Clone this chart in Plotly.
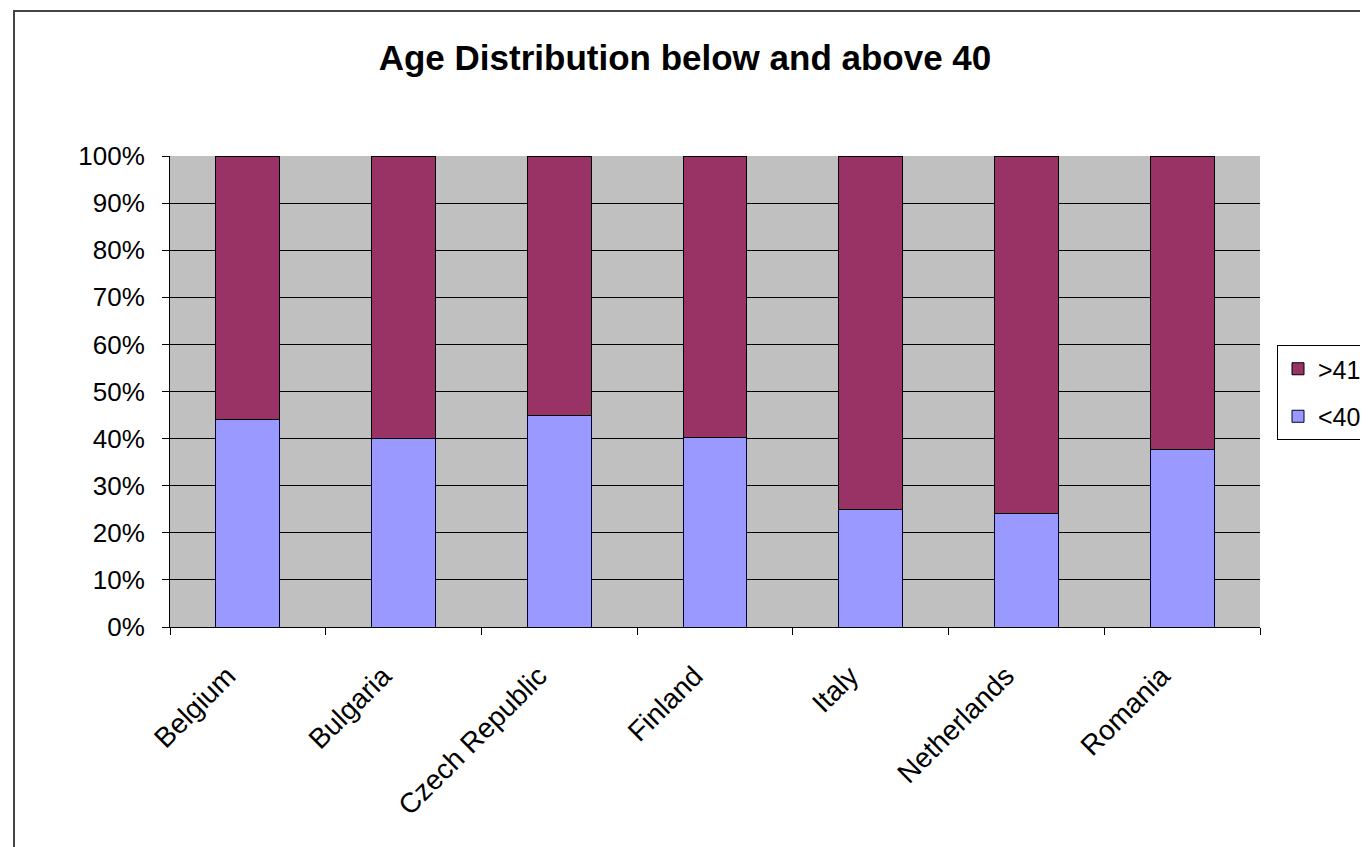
import plotly.graph_objects as go

countries = ["Belgium", "Bulgaria", "Czech Republic", "Finland", "Italy", "Netherlands", "Romania"]
below_40 = [0.44, 0.40, 0.45, 0.403, 0.25, 0.241, 0.377]
above_41 = [round(1 - v, 3) for v in below_40]
y_ticks = [i / 10 for i in range(11)]

FONT = "Liberation Sans, Arial, sans-serif"

fig = go.Figure()
fig.add_trace(go.Bar(
    x=countries, y=below_40, name="<40", legendrank=2, legendgroup="lo",
    marker=dict(color="#9999FF", line=dict(color="#000033", width=1)),
    width=0.41,
))
fig.add_trace(go.Bar(
    x=countries, y=above_41, name=">41", legendrank=1, legendgroup="hi",
    marker=dict(color="#993366", line=dict(color="#000000", width=1)),
    width=0.41,
))

OFF = 8  # page body margin
W, H = 1368 - OFF, 847 - OFF
L, R, T, B = 170 - OFF, 1260 - OFF, 156 - OFF, 627 - OFF
pw, ph = R - L, B - T

def px_x(sx):
    return (sx - OFF - L) / pw

def px_y(sy):
    return (B - (sy - OFF)) / ph

pad = "\u00a0" * 3 + "\u2009"

fig.update_layout(
    width=W, height=H,
    barmode="stack",
    margin=dict(l=L, r=W - R, t=T, b=H - B, autoexpand=False),
    paper_bgcolor="white",
    plot_bgcolor="#C0C0C0",
    font=dict(family=FONT, size=26, color="black"),
    title=dict(
        text="<b>Age Distribution below and above 40</b>",
        font=dict(family=FONT, size=35, color="black"),
        xref="container", x=(685 - OFF) / W, xanchor="center",
        yref="container", y=1 - (58 - OFF) / H, yanchor="middle",
    ),
    xaxis=dict(
        type="category",
        tickvals=countries,
        ticktext=[c + pad for c in countries],
        showline=True, linecolor="black", linewidth=1,
        ticks="outside", tickson="boundaries", ticklen=7, tickcolor="black",
        tickangle=-45,
        tickfont=dict(family=FONT, size=28, color="black"),
        showgrid=False,
    ),
    yaxis=dict(
        range=[0, 1],
        tickvals=y_ticks,
        tickformat=".0%",
        showline=True, linecolor="black", linewidth=1,
        ticks="outside", ticklen=7, tickcolor="black",
        ticklabelstandoff=12,
        showgrid=True, gridcolor="black", gridwidth=1,
        zeroline=False,
        tickfont=dict(family=FONT, size=26, color="black"),
    ),
    legend=dict(
        x=px_x(1277), xanchor="left",
        y=px_y(345), yanchor="top",
        bgcolor="white", bordercolor="black", borderwidth=1,
        traceorder="grouped", tracegroupgap=12,
        font=dict(family=FONT, size=25, color="black"),
    ),
    showlegend=True,
    shapes=[dict(
        type="rect", xref="paper", yref="paper",
        x0=px_x(14), x1=px_x(1400),
        y0=px_y(880), y1=px_y(11),
        line=dict(color="#444444", width=2), fillcolor="rgba(0,0,0,0)",
        layer="below",
    )],
)

fig.write_html("out.html")
